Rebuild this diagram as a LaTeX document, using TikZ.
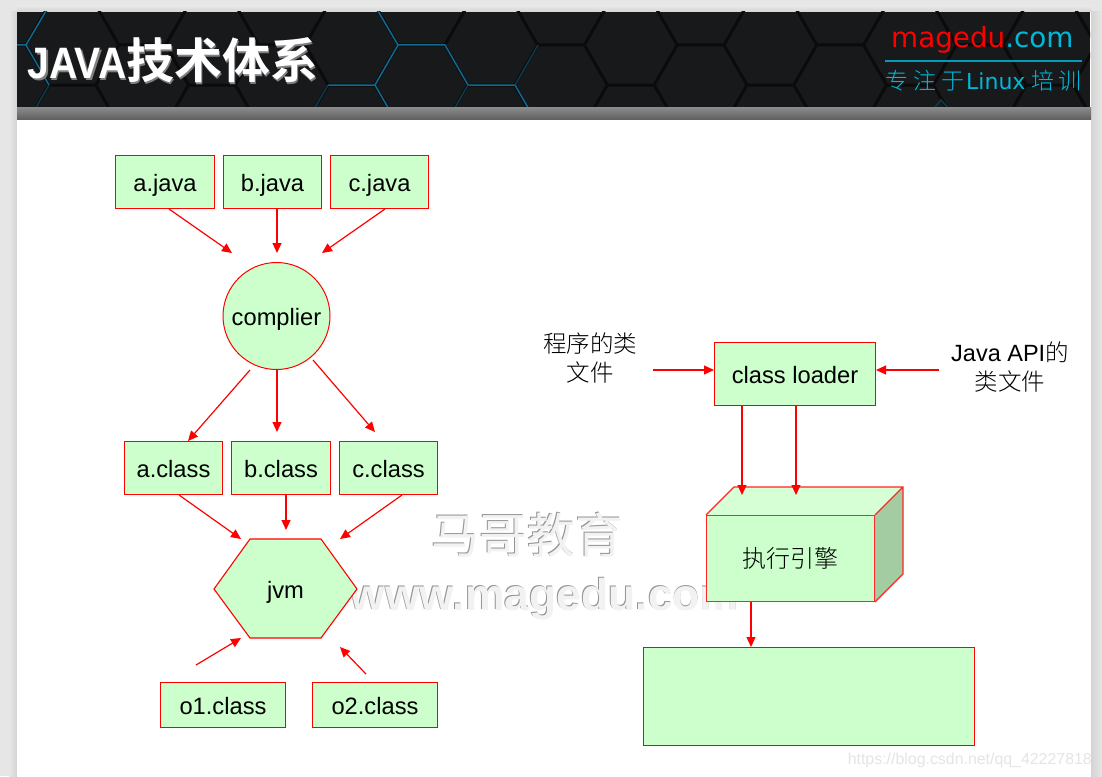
\documentclass[tikz,border=0pt]{standalone}
\usepackage{fontspec}
\usepackage{graphicx}
\setmainfont{Liberation Sans}
\newfontfamily\cjk{Noto Sans CJK SC Light}
\newfontfamily\cjkr{Noto Sans CJK SC}
\newfontfamily\cjkb{Noto Sans CJK SC Bold}
\newfontfamily\djv{DejaVu Sans}
\usetikzlibrary{arrows.meta,shadings}
\definecolor{pagebg}{HTML}{E6E6E6}
\definecolor{boxfill}{HTML}{CCFFCC}
\definecolor{cubetop}{HTML}{D6FFD6}
\definecolor{cubeside}{HTML}{A3CCA3}
\definecolor{hdr}{HTML}{18191B}
\definecolor{hexline}{HTML}{0B0B0C}
\definecolor{hexblue}{HTML}{0F6A92}
\definecolor{hexdim}{HTML}{0E3A4E}
\definecolor{cyantext}{HTML}{00B8D8}
\tikzset{
  redbox/.style={draw=red,fill=boxfill,line width=1pt,inner sep=0pt,text height=18pt,text depth=0pt,font=\fontsize{23.7}{28}\selectfont},
  flow/.style={draw=red,line width=1.2pt,-{Triangle[length=10pt,width=9pt]}},
  wm/.style={inner sep=0pt,text=black!5},
  wmshadow/.style={inner sep=0pt,text=black!42},
  cjklabel/.style={inner sep=0pt,align=center,font=\cjk\fontsize{23.5}{29}\selectfont},
}
\newcommand{\bx}[6]{\node[redbox,minimum width=#4-#3-1,minimum height=#6-#5-1,anchor=north west] (#1) at (#3,#5) {#2};}
\begin{document}
\begin{tikzpicture}[x=1pt,y=-1pt]
\useasboundingbox (0,0) rectangle (1102,776);
\fill[pagebg] (0,0) rectangle (1102,776);
\shade[left color=pagebg,right color=black!17] (9,12) rectangle (17,776);
\shade[left color=black!17,right color=pagebg] (1091,12) rectangle (1102,776);
\shade[top color=pagebg,bottom color=black!17] (17,6) rectangle (1091,12);
\fill[white] (17,12) rectangle (1091,776);
% header
\fill[hdr] (17,12) rectangle (1090,107);
\begin{scope}
\clip (17,12) rectangle (1090,107);
\foreach \k in {-5,...,11}{
  \pgfmathsetmacro{\xa}{328+69.8*\k}
  \pgfmathsetmacro{\ya}{85-40*mod(abs(\k),2)}
  \foreach \r in {-2,-1,0,1}{
    \pgfmathsetmacro{\yy}{\ya+80*\r}
    \draw[hexline,line width=3pt] (\xa,\yy) -- ++(47,0) -- ++(23,40) ++(-23,-40) -- ++(23,-40);
  }
}
\draw[hexblue,line width=1.5pt] (17,45) -- (26,45) -- (46,11) (26,45) -- (49,85);
\draw[hexdim,line width=1.5pt] (49,85) -- (26,125);
\draw[hexblue,line width=1.5pt] (328,85) -- (375,85) -- (398,45) -- (445,45) -- (468,85) -- (515,85) -- (538,125) (398,45) -- (378,11) (375,85) -- (398,125);
\draw[hexdim,line width=1.5pt] (328,85) -- (305,125) (468,85) -- (445,125) (515,85) -- (538,45);
\draw[hexdim,line width=1.5pt] (935,107) -- (941,100) -- (947,107);
\end{scope}
\shade[top color=black!45,bottom color=black!62] (17,107) rectangle (1091,119);
% title
\node[inner sep=0pt,anchor=base west,text=black!50,font=\cjkb\fontsize{48}{50}\selectfont] (titleshadow) at (29,80) {\scalebox{0.89}[1]{\fontspec{Liberation Sans Bold}\fontsize{44}{46}\selectfont JAVA}技术体系};
\node[inner sep=0pt,anchor=base west,text=white,font=\cjkb\fontsize{48}{50}\selectfont] (title) at (27.5,78.5) {\scalebox{0.89}[1]{\fontspec{Liberation Sans Bold}\fontsize{44}{46}\selectfont JAVA}技术体系};
% logo
\node[inner sep=0pt,anchor=base west,font=\djv\fontsize{27.8}{30}\selectfont] (logo) at (891,48) {\textcolor{red}{magedu}\textcolor{cyantext}{.com}};
\coordinate (rulea) at (885,61);
\coordinate (ruleb) at (1082,61);
\draw[cyantext!85!black,line width=1.8pt] (rulea) -- (ruleb);
\node[inner sep=0pt,anchor=base west,text=cyantext,font=\cjk\fontsize{23}{25}\selectfont] (logosub) at (885,89) {专\hspace{5pt}注\hspace{5pt}于\hspace{2pt}{\djv\fontsize{22}{25}\selectfont Linux}\hspace{6pt}培\hspace{4pt}训};
% watermark
\node[wmshadow,font=\cjkr\fontsize{48}{50}\selectfont] (wma) at (526.2,534.2) {马哥教育};
\node[wm,font=\cjkr\fontsize{48}{50}\selectfont] (wmb) at (527,535) {马哥教育};
\node[wmshadow,font=\bfseries\fontsize{44.5}{50}\selectfont,anchor=base] (wmc) at (544.2,609.2) {www.magedu.com};
\node[wm,font=\bfseries\fontsize{44.5}{50}\selectfont,anchor=base] (wmd) at (545,610) {www.magedu.com};
\node[inner sep=0pt,anchor=base east,text=black!10,font=\fontsize{15.9}{20}\selectfont] (url) at (1092,764) {https://blog.csdn.net/qq\_42227818};
% boxes
\bx{aj}{a.java}{115}{215}{155}{209}
\bx{bj}{b.java}{223}{322}{155}{209}
\bx{cj}{c.java}{330}{429}{155}{209}
\bx{ac}{a.class}{124}{223}{441}{495}
\bx{bc}{b.class}{231}{331}{441}{495}
\bx{cc}{c.class}{339}{438}{441}{495}
\bx{oa}{o1.class}{160}{286}{682}{728}
\bx{ob}{o2.class}{312}{438}{682}{728}
\bx{cl}{class loader}{714}{876}{342}{406}
\bx{out}{}{643}{975}{647}{746}
\node[redbox,circle,minimum size=107pt] (comp) at (276.5,316) {complier};
% hexagon
\draw[draw=red,fill=boxfill,line width=1.1pt] (214,589) -- (250,539) -- (321,539) -- (357,589) -- (321,638) -- (250,638) -- cycle;
\node[inner sep=0pt,text height=18pt,text depth=0pt,font=\fontsize{23.7}{28}\selectfont] (jvm) at (285.5,589) {jvm};
% cube
\fill[cubetop] (706,515) -- (734,487) -- (903,487) -- (875,515) -- cycle;
\fill[cubeside] (875,515) -- (903,487) -- (903,574) -- (875,602) -- cycle;
\node[draw=red!85!white,fill=boxfill,line width=1.3pt,inner sep=0pt,minimum width=168pt,minimum height=86pt,anchor=north west,font=\cjk\fontsize{24}{28}\selectfont] (eng) at (706,515) {执行引擎};
\draw[red!85!white,line width=1.3pt,line join=miter] (706,515) -- (734,487) -- (903,487) -- (903,574) -- (875,602) (875,515) -- (903,487);
% labels
\node[cjklabel] (src) at (590,358) {程序的类\\文件};
\node[cjklabel] (api) at (1010,367) {{\fontsize{23.5}{29}\selectfont\rmfamily Java API}的\\类文件};
% free ends
\coordinate (f1) at (232,253); \coordinate (f2) at (277,253); \coordinate (f3) at (322,253);
\coordinate (s1) at (169,209); \coordinate (s2) at (277,209); \coordinate (s3) at (385,209);
\draw[flow] (s1) -- (f1);
\draw[flow] (s2) -- (f2);
\draw[flow] (s3) -- (f3);
\coordinate (c1) at (250,370); \coordinate (c2) at (277,370); \coordinate (c3) at (313,360);
\coordinate (t1) at (188,441); \coordinate (t2) at (277,432); \coordinate (t3) at (375,432);
\draw[flow] (c1) -- (t1);
\draw[flow] (c2) -- (t2);
\draw[flow] (c3) -- (t3);
\coordinate (d1) at (179,495); \coordinate (d2) at (286,495); \coordinate (d3) at (402,495);
\coordinate (e1) at (241,539); \coordinate (e2) at (286,530); \coordinate (e3) at (340,539);
\draw[flow] (d1) -- (e1);
\draw[flow] (d2) -- (e2);
\draw[flow] (d3) -- (e3);
\coordinate (g1) at (196,665); \coordinate (h1) at (241,638);
\coordinate (g2) at (366,674); \coordinate (h2) at (340,647);
\draw[flow] (g1) -- (h1);
\draw[flow] (g2) -- (h2);
\coordinate (i1) at (653,370); \coordinate (j1) at (714,370);
\coordinate (i2) at (939,370); \coordinate (j2) at (876,370);
\draw[flow] (i1) -- (j1);
\draw[flow] (i2) -- (j2);
\coordinate (k1) at (742,406); \coordinate (l1) at (742,495);
\coordinate (k2) at (796,406); \coordinate (l2) at (796,495);
\draw[flow] (k1) -- (l1);
\draw[flow] (k2) -- (l2);
\coordinate (m1) at (751,602); \coordinate (n1) at (751,647);
\draw[flow] (m1) -- (n1);
\end{tikzpicture}
\end{document}
